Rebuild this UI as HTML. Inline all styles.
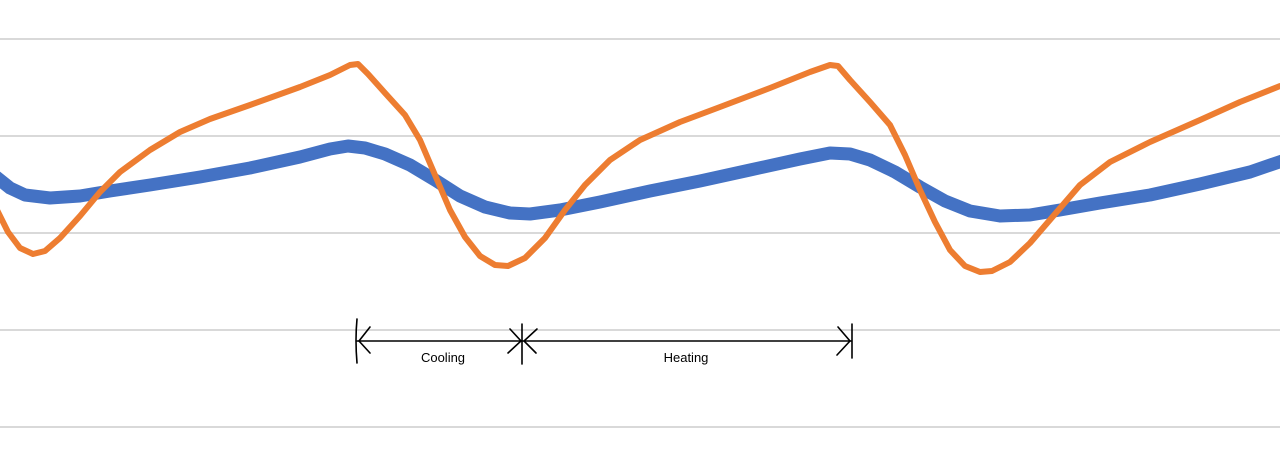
<!DOCTYPE html>
<html><head><meta charset="utf-8"><style>
html,body{margin:0;padding:0;background:#fff;width:1280px;height:449px;overflow:hidden}
svg{display:block}
text{font-family:"Liberation Sans",sans-serif}
</style></head><body>
<svg width="1280" height="449" viewBox="0 0 1280 449">
<g stroke="#d9d9d9" stroke-width="2">
<line x1="0" y1="39" x2="1280" y2="39"/>
<line x1="0" y1="136" x2="1280" y2="136"/>
<line x1="0" y1="233" x2="1280" y2="233"/>
<line x1="0" y1="330" x2="1280" y2="330"/>
<line x1="0" y1="427" x2="1280" y2="427"/>
</g>
<polyline fill="none" stroke="#4472c4" stroke-width="13" stroke-linejoin="round" stroke-linecap="round"
points="-5,176 10,188 25,195 50,198 80,196 110,191 150,185 200,177 250,168 300,157 330,149 348,146 365,148 385,154 410,165 435,180 460,196 485,207 510,213 530,214 560,210 600,202 650,191 700,181 750,170 800,159 830,153 850,154 870,160 895,172 920,187 945,201 970,211 1000,216 1030,215 1060,210 1100,203 1150,195 1200,184 1250,172 1285,160"/>
<polyline fill="none" stroke="#ed7d31" stroke-width="6" stroke-linejoin="round" stroke-linecap="round"
points="-3,210 8,232 20,248 33,254 45,251 60,238 80,216 100,192 120,172 150,150 180,132 210,119 250,105 300,87 330,75 350,65 358,64 368,74 385,93 405,115 420,140 435,175 450,210 465,237 480,256 495,265 508,266 525,258 545,238 565,210 585,185 610,160 640,140 680,122 720,107 770,88 810,72 830,65 838,66 850,80 870,102 890,125 905,155 920,190 935,222 950,250 965,266 980,272 992,271 1010,262 1030,243 1055,214 1080,185 1110,162 1150,142 1200,120 1240,102 1280,86"/>
<g stroke="#000" stroke-width="1.6" fill="none" stroke-linecap="round">
<line x1="357" y1="341" x2="851" y2="341"/>
<path d="M357,319 Q355,340 357,363"/>
<path d="M522,324 L522,364"/>
<path d="M852,324 L852,358"/>
<path d="M370,327 L359,341 L370,353"/>
<path d="M510,329 L521,341 L508,353"/>
<path d="M537,329 L524,341 L536,353"/>
<path d="M838,327 L850,341 L837,355"/>
</g>
<text x="443" y="362" font-size="13" text-anchor="middle" fill="#000">Cooling</text>
<text x="686" y="362" font-size="13" text-anchor="middle" fill="#000">Heating</text>
</svg>
</body></html>
